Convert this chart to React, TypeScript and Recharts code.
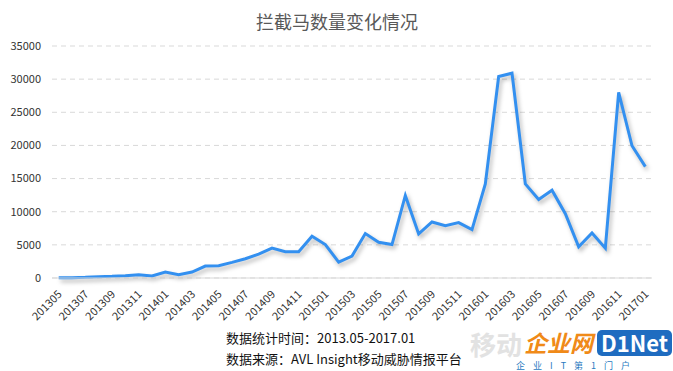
import { LineChart, Line, XAxis, YAxis, CartesianGrid } from 'recharts';

const months = [
  '201305', '201306', '201307', '201308', '201309', '201310', '201311', '201312',
  '201401', '201402', '201403', '201404', '201405', '201406', '201407', '201408',
  '201409', '201410', '201411', '201412', '201501', '201502', '201503', '201504',
  '201505', '201506', '201507', '201508', '201509', '201510', '201511', '201512',
  '201601', '201602', '201603', '201604', '201605', '201606', '201607', '201608',
  '201609', '201610', '201611', '201612', '201701',
];

const blocked = [
  50, 50, 100, 200, 250, 350, 500, 300,
  900, 500, 900, 1800, 1850, 2350, 2900, 3600,
  4500, 3950, 3950, 6300, 5050, 2400, 3300, 6700,
  5400, 5050, 12450, 6650, 8450, 7900, 8350, 7300,
  14200, 30400, 30900, 14200, 11850, 13250, 9700, 4700,
  6800, 4500, 28000, 19950, 16800,
];

const yTicks = [0, 5000, 10000, 15000, 20000, 25000, 30000, 35000];

const title = '拦截马数量变化情况';
const footLines = ['数据统计时间：2013.05-2017.01', '数据来源：AVL Insight移动威胁情报平台'];

const FONT = '"Microsoft YaHei", "Noto Sans CJK SC", sans-serif';

const data = months.map((m, i) => ({ month: m, value: blocked[i] }));

function MonthTick({ x, y, payload }: any) {
  return (
    <text
      x={x + 4}
      y={y + 9}
      transform={`rotate(-45 ${x + 4} ${y + 9})`}
      textAnchor="end"
      fontSize={11}
      fill="#333"
      fontFamily={FONT}
    >
      {payload.value}
    </text>
  );
}

export default function App() {
  return (
    <div style={{ position: 'absolute', left: 0, top: 0, width: 673, height: 371, background: '#fff', fontFamily: FONT }}>
      <style>{`.shadow-line path { filter: drop-shadow(2px 3px 2px rgba(0,0,0,0.28)); }`}</style>
      <LineChart width={673} height={330} data={data} margin={{ top: 46, right: 21, left: 0, bottom: 4 }}>
        <text x={337} y={29} textAnchor="middle" fontSize={18} fill="#595959" fontFamily={FONT}>
          {title}
        </text>
        <CartesianGrid vertical={false} stroke="#d9d9d9" strokeDasharray="5 4" />
        <XAxis
          dataKey="month"
          scale="band"
          interval={1}
          height={48}
          tickLine={false}
          axisLine={{ stroke: '#d9d9d9' }}
          tick={<MonthTick />}
        />
        <YAxis
          width={52}
          domain={[0, 35000]}
          ticks={yTicks}
          tickLine={false}
          axisLine={false}
          tickMargin={5}
          tick={{ fontSize: 11, fill: '#333', fontFamily: FONT }}
        />
        <Line
          className="shadow-line"
          type="linear"
          dataKey="value"
          stroke="#3390f0"
          strokeWidth={3}
          dot={false}
          isAnimationActive={false}
        />
      </LineChart>
      <svg width={673} height={371} style={{ position: 'absolute', left: 0, top: 0, pointerEvents: 'none' }}>
        <text x={470} y={355} fontSize={26} fontWeight="bold" fill="#e2e2e2" fontFamily={FONT}>移动</text>
        <text x={226} y={343} fontSize={13} fill="#111" fontFamily={FONT}>{footLines[0]}</text>
        <text x={226} y={364} fontSize={13} fill="#111" fontFamily={FONT}>{footLines[1]}</text>
        <text x={524} y={352} fontSize={23} fontWeight="bold" fontStyle="italic" fill="#f08a18" fontFamily={FONT}>企业网</text>
        <rect x={597} y={330} width={75} height={26} rx={5} fill="#1f6cc0" />
        <text x={601} y={352} fontSize={22} fontWeight="bold" fill="#fff" fontFamily={FONT}>D1Net</text>
        <text x={516} y={369} fontSize={9} fill="#2a7ac0" fontFamily={FONT} letterSpacing={8}>企业IT第1门户</text>
      </svg>
    </div>
  );
}
